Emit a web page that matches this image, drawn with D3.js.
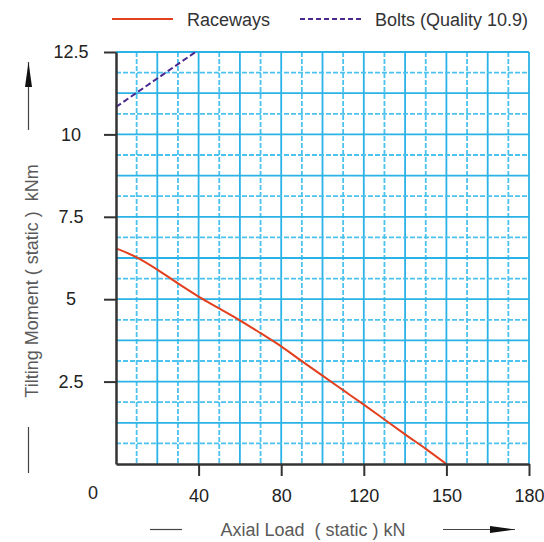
<!DOCTYPE html>
<html>
<head>
<meta charset="utf-8">
<script src="https://cdn.jsdelivr.net/npm/d3@7"></script>
<style>
  body { margin: 0; background: #fff; }
  text { font-family: "Liberation Sans", Arial, sans-serif; }
</style>
</head>
<body>
<div id="chart"></div>
<script>
var w = 544;
var h = 542;

// x axis is evenly spaced between these tick values
var xTicks = [0, 40, 80, 120, 150, 180];
var yTicks = [2.5, 5, 7.5, 10, 12.5];

var racewaysX = [0, 10, 20, 30, 40, 50, 60, 70, 80, 90, 100, 110, 120, 127.5, 135, 142.5, 150];
var racewaysY = [6.54, 6.27, 5.9, 5.48, 5.08, 4.72, 4.36, 3.97, 3.57, 3.12, 2.68, 2.24, 1.8, 1.35, 0.9, 0.46, 0];

var boltsX = [0, 38.5];
var boltsY = [10.83, 12.5];

var legendNames = ['Raceways', 'Bolts (Quality 10.9)'];

var pLeft = 116, pRight = 529, pTop = 52, pBottom = 464;

var x = d3.scaleLinear()
	.domain(xTicks)
	.range(xTicks.map(function (d, i) { return pLeft + (pRight - pLeft) * i / (xTicks.length - 1); }));

var y = d3.scaleLinear()
	.domain([0, 12.5])
	.range([pBottom, pTop]);

var svg = d3.select('#chart')
	.append('svg')
	.attr('width', w)
	.attr('height', h);

// grid: each tick interval split in four, dashed and solid in turn
var xGrid = [];
for (var i = 0; i < xTicks.length - 1; i++) {
	for (var k = 1; k <= 4; k++) {
		xGrid.push({ v: xTicks[i] + (xTicks[i + 1] - xTicks[i]) * k / 4, solid: k % 2 === 0 });
	}
}
var yGrid = [];
for (var j = 1; j <= 20; j++) {
	yGrid.push({ v: j * 0.625, solid: j % 2 === 0 });
}

var grid = svg.append('g');
grid.selectAll('line.gx')
	.data(xGrid)
	.enter()
	.append('line')
	.attr('x1', function (d) { return x(d.v); })
	.attr('x2', function (d) { return x(d.v); })
	.attr('y1', pTop)
	.attr('y2', pBottom)
	.attr('stroke', function (d) { return d.solid ? '#2bb2e6' : '#4cc2ee'; })
	.attr('stroke-width', 1.8)
	.attr('stroke-dasharray', function (d) { return d.solid ? null : '5,2'; });

grid.selectAll('line.gy')
	.data(yGrid)
	.enter()
	.append('line')
	.attr('x1', pLeft)
	.attr('x2', pRight)
	.attr('y1', function (d) { return y(d.v); })
	.attr('y2', function (d) { return y(d.v); })
	.attr('stroke', function (d) { return d.solid ? '#2bb2e6' : '#4cc2ee'; })
	.attr('stroke-width', 1.8)
	.attr('stroke-dasharray', function (d) { return d.solid ? null : '5,2'; });

var lineFn = d3.line()
	.x(function (d) { return x(d[0]); })
	.y(function (d) { return y(d[1]); })
	.curve(d3.curveMonotoneX);

svg.append('path')
	.attr('d', lineFn(racewaysX.map(function (d, i) { return [d, racewaysY[i]]; })))
	.attr('fill', 'none')
	.attr('stroke', '#e2401f')
	.attr('stroke-width', 2);

svg.append('path')
	.attr('d', lineFn(boltsX.map(function (d, i) { return [d, boltsY[i]]; })))
	.attr('fill', 'none')
	.attr('stroke', '#4a2a8e')
	.attr('stroke-width', 2)
	.attr('stroke-dasharray', '6,3');

// axes
var yAxis = svg.append('g')
	.attr('transform', 'translate(' + pLeft + ',0)')
	.call(d3.axisLeft(y).tickValues(yTicks).tickSize(12).tickSizeOuter(0)
		.tickFormat(function (d) { return d; }));
yAxis.selectAll('text')
	.attr('x', -45)
	.attr('text-anchor', 'middle')
	.attr('font-size', '18px')
	.attr('fill', '#222');

var xAxis = svg.append('g')
	.attr('transform', 'translate(0,' + pBottom + ')')
	.call(d3.axisBottom(x).tickValues(xTicks.slice(1)).tickSize(12).tickSizeOuter(0).tickPadding(13));
xAxis.selectAll('text')
	.attr('font-size', '18px')
	.attr('fill', '#222');

[yAxis, xAxis].forEach(function (a) {
	a.select('.domain').attr('stroke', '#333').attr('stroke-width', 2.5);
	a.selectAll('.tick line').attr('stroke', '#333').attr('stroke-width', 2);
	a.attr('font-family', null);
});

svg.append('text')
	.text('0')
	.attr('x', 93)
	.attr('y', 499)
	.attr('text-anchor', 'middle')
	.attr('font-size', '18px')
	.attr('fill', '#222');

// axis titles with arrows
var defs = svg.append('defs');
defs.append('marker')
	.attr('id', 'arrow')
	.attr('viewBox', '0 0 10 10')
	.attr('preserveAspectRatio', 'none')
	.attr('refX', 10)
	.attr('refY', 5)
	.attr('markerWidth', 25)
	.attr('markerHeight', 7)
	.attr('markerUnits', 'userSpaceOnUse')
	.attr('orient', 'auto')
	.append('path')
	.attr('d', 'M0,0L10,5L0,10Z')
	.attr('fill', '#111');

svg.append('text')
	.text('Tilting Moment ( static )  kNm')
	.attr('transform', 'translate(38,281) rotate(-90)')
	.attr('text-anchor', 'middle')
	.attr('font-size', '18px')
	.attr('fill', '#5a5a5a')
	.style('white-space', 'pre');

svg.append('line')
	.attr('x1', 28.5).attr('y1', 130).attr('x2', 28.5).attr('y2', 62)
	.attr('stroke', '#444').attr('stroke-width', 1.2)
	.attr('marker-end', 'url(#arrow)');
svg.append('line')
	.attr('x1', 28.5).attr('y1', 427).attr('x2', 28.5).attr('y2', 473)
	.attr('stroke', '#444').attr('stroke-width', 1.2);

svg.append('text')
	.text('Axial Load  ( static ) kN')
	.attr('x', 313)
	.attr('y', 536)
	.attr('text-anchor', 'middle')
	.attr('font-size', '18px')
	.attr('fill', '#5a5a5a')
	.style('white-space', 'pre');

svg.append('line')
	.attr('x1', 150).attr('y1', 529.5).attr('x2', 182).attr('y2', 529.5)
	.attr('stroke', '#444').attr('stroke-width', 1.2);
svg.append('line')
	.attr('x1', 443).attr('y1', 529.5).attr('x2', 515).attr('y2', 529.5)
	.attr('stroke', '#444').attr('stroke-width', 1.2)
	.attr('marker-end', 'url(#arrow)');

// legend
var legend = svg.append('g');
legend.append('line')
	.attr('x1', 112).attr('x2', 173).attr('y1', 19).attr('y2', 19)
	.attr('stroke', '#e2401f').attr('stroke-width', 2);
legend.append('text')
	.text(legendNames[0])
	.attr('x', 187).attr('y', 26)
	.attr('font-size', '18px').attr('fill', '#333');
legend.append('line')
	.attr('x1', 300).attr('x2', 362).attr('y1', 19).attr('y2', 19)
	.attr('stroke', '#4a2a8e').attr('stroke-width', 2)
	.attr('stroke-dasharray', '5,3');
legend.append('text')
	.text(legendNames[1])
	.attr('x', 375).attr('y', 26)
	.attr('font-size', '18px').attr('fill', '#333');
</script>
</body>
</html>
